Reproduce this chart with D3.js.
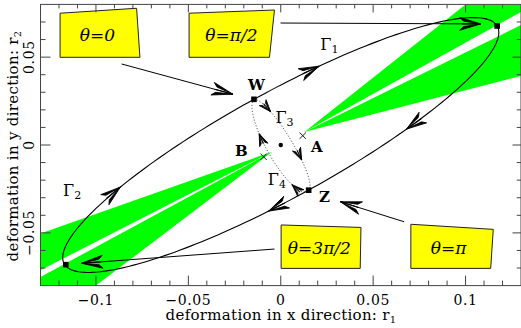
<!DOCTYPE html>
<html><head><meta charset="utf-8">
<script src="https://cdn.jsdelivr.net/npm/d3@7"></script>
<style>body{margin:0;background:#fff}svg{display:block}</style>
</head><body>
<script>
// ---------- data ----------
const xDomain = [-0.13, 0.13];
const yDomain = [-0.08, 0.08];
const xMajorTicks = [-0.1, -0.05, 0, 0.05, 0.1];
const xTickLabels = ["\u22120.1", "\u22120.05", "0", "0.05", "0.1"];
const yMajorTicks = [-0.05, 0, 0.05];
const yTickLabels = ["\u22120.05", "0", "0.05"];
const xMinorTicks = [-0.12,-0.11,-0.09,-0.08,-0.07,-0.06,-0.04,-0.03,-0.02,-0.01,0.01,0.02,0.03,0.04,0.06,0.07,0.08,0.09,0.11,0.12];
const yMinorTicks = [-0.07,-0.06,-0.04,-0.03,-0.02,-0.01,0.01,0.02,0.03,0.04,0.06,0.07];

// key points of the loop: W (theta=0), TR (theta=pi/2), Z (theta=pi), BL (theta=3pi/2)
const keyNames = ["W", "TR", "Z", "BL"];
const keyX = [-0.0145, 0.1171, 0.0151, -0.1163];
const keyY = [0.0260, 0.0677, -0.0257, -0.0681];
// arrow parameters along the big loop (Gamma1 / Gamma2)
const loopArrowTheta = [0.30, 2.65, 3.32, 5.58];

// inner loops: via points (widest points) of Gamma3 and Gamma4
const gamma3Via = [0.0064, 0.0012];
const gamma4Via = [-0.0057, -0.0061];
const gamma3ArrowTheta = [0.80, 1.95];
const gamma4ArrowTheta = [1.10, 2.35];

// crosses A, B and centre dot
const crossNames = ["A", "B"];
const crossX = [0.0119, -0.0093];
const crossY = [0.0053, -0.0067];
const centreDot = [0, 0];

// green wedges (polygons)
const wedgeA1 = [[0.0128,0.0074],[0.100,0.080],[0.130,0.080],[0.130,0.0757]];
const wedgeA2 = [[0.0128,0.0074],[0.130,0.0683],[0.130,0.0393]];
const wedgeB1 = [[-0.0046,-0.0038],[-0.130,-0.0503],[-0.130,-0.0712]];
const wedgeB2 = [[-0.0046,-0.0038],[-0.130,-0.0751],[-0.130,-0.080],[-0.100,-0.080]];

// theta boxes
const boxLabels = ["\u03b8=0", "\u03b8=\u03c0/2", "\u03b8=3\u03c0/2", "\u03b8=\u03c0"];
const boxCorners = [
  [[-0.1194,0.0750],[-0.0780,0.0778],[-0.0762,0.0499],[-0.1194,0.0499]],
  [[-0.0496,0.0750],[-0.0034,0.0768],[-0.0061,0.0499],[-0.0496,0.0499]],
  [[0.0002,-0.0455],[0.0434,-0.0469],[0.0430,-0.0702],[0.0002,-0.0702]],
  [[0.0704,-0.0451],[0.1150,-0.0480],[0.1136,-0.0702],[0.0704,-0.0702]]
];
const boxTextPos = [[-0.0992,0.0626],[-0.0267,0.0626],[0.0209,-0.0586],[0.0908,-0.0586]];
// annotation arrows from boxes: [x0,y0,x1,y1]
const annotArrows = [
  [-0.0861, 0.0461, -0.0259, 0.0289],
  [-0.0001, 0.0694, 0.1082, 0.0689],
  [0.0668, -0.0437, 0.0323, -0.0323],
  [-0.0034, -0.0592, -0.1077, -0.0673]
];
// point labels
const ptLabels = ["W", "A", "B", "Z"];
const ptLabelX = [-0.0132, 0.0195, -0.0213, 0.0236];
const ptLabelY = [0.0341, -0.0010, -0.0034, -0.0294];
// Gamma labels
const gammaSubs = ["1", "2", "3", "4"];
const gammaX = [0.0263, -0.1129, 0.0020, -0.0021];
const gammaY = [0.0575, -0.0256, 0.0161, -0.0195];

// ---------- drawing ----------
const Wd = 521, Ht = 328;
const svg = d3.select("body").append("svg").attr("width", Wd).attr("height", Ht);
const x = d3.scaleLinear().domain(xDomain).range([40.5, 521]);
const y = d3.scaleLinear().domain(yDomain).range([285.6, 4.4]);
const X0 = x(xDomain[0]), X1 = x(xDomain[1]), Y0 = y(yDomain[0]), Y1 = y(yDomain[1]);

svg.append("clipPath").attr("id", "clip").append("rect")
  .attr("x", X0).attr("y", Y1).attr("width", X1 - X0).attr("height", Y0 - Y1);
const plot = svg.append("g").attr("clip-path", "url(#clip)");

const poly = pts => "M" + pts.map(p => x(p[0]) + "," + y(p[1])).join("L") + "Z";
[wedgeA1, wedgeA2, wedgeB1, wedgeB2].forEach(w =>
  plot.append("path").attr("d", poly(w)).attr("fill", "#00ff00"));

// loop curve helpers
const ax = keyX[0], ay = keyY[0], bx = keyX[1], by = keyY[1];
const loopPt = t => [ax * Math.cos(t) + bx * Math.sin(t), ay * Math.cos(t) + by * Math.sin(t)];
const g3Pt = t => [ax * Math.cos(t) + gamma3Via[0] * Math.sin(t), ay * Math.cos(t) + gamma3Via[1] * Math.sin(t)];
const g4Pt = t => [ax * Math.cos(t) + gamma4Via[0] * Math.sin(t), ay * Math.cos(t) + gamma4Via[1] * Math.sin(t)];
const line = d3.line().x(d => x(d[0])).y(d => y(d[1]));
const N = 240;
const loopData = d3.range(N + 1).map(i => loopPt(2 * Math.PI * i / N));
plot.append("path").attr("d", line(loopData)).attr("fill", "none").attr("stroke", "#000").attr("stroke-width", 1.1);
const g3Data = d3.range(N / 2 + 1).map(i => g3Pt(Math.PI * i / (N / 2)));
const g4Data = d3.range(N / 2 + 1).map(i => g4Pt(Math.PI * i / (N / 2)));
[g3Data, g4Data].forEach(d => plot.append("path").attr("d", line(d)).attr("fill", "none")
  .attr("stroke", "#000").attr("stroke-width", 0.8).attr("stroke-dasharray", "1,2"));

function arrowHead(g, px, py, ang, L, w) {
  const deg = ang * 180 / Math.PI;
  const d = `M0,0L${-L},${-w}L${-L * 0.82},${-w * 0.42}Z M0,0L${-L},${w}L${-L * 0.82},${w * 0.42}Z`;
  g.append("path").attr("d", d).attr("transform", `translate(${px},${py}) rotate(${deg})`)
    .attr("fill", "#000").attr("stroke", "#000").attr("stroke-width", 0.8).attr("stroke-linejoin", "round");
  g.append("line").attr("x1", 0).attr("y1", 0).attr("x2", -L * 0.9).attr("y2", 0)
    .attr("transform", `translate(${px},${py}) rotate(${deg})`)
    .attr("stroke", "#000").attr("stroke-width", 1.1);
}
function curveArrow(fn, t, dir, L, w) {
  const p = fn(t), q = fn(t + dir * 0.01);
  const ang = Math.atan2(y(q[1]) - y(p[1]), x(q[0]) - x(p[0]));
  arrowHead(plot, x(p[0]), y(p[1]), ang, L, w);
}
loopArrowTheta.forEach(t => curveArrow(loopPt, t, 1, 20, 6.5));
gamma3ArrowTheta.forEach(t => curveArrow(g3Pt, t, 1, 12, 4.5));
gamma4ArrowTheta.forEach(t => curveArrow(g4Pt, t, -1, 12, 4.5));

// annotation arrows
annotArrows.forEach(a => {
  plot.append("line").attr("x1", x(a[0])).attr("y1", y(a[1])).attr("x2", x(a[2])).attr("y2", y(a[3]))
    .attr("stroke", "#000").attr("stroke-width", 1);
  const ang = Math.atan2(y(a[3]) - y(a[1]), x(a[2]) - x(a[0]));
  arrowHead(plot, x(a[2]), y(a[3]), ang, 21, 6.5);
});

// boxes
boxCorners.forEach((c, i) => {
  plot.append("path").attr("d", poly(c)).attr("fill", "#ffff00").attr("stroke", "#222").attr("stroke-width", 1);
  plot.append("text").attr("x", x(boxTextPos[i][0])).attr("y", y(boxTextPos[i][1]))
    .attr("text-anchor", "middle").attr("dominant-baseline", "central")
    .attr("font-family", "DejaVu Serif").attr("font-style", "italic").attr("font-size", 17)
    .text(boxLabels[i]);
});

// key point squares
keyX.forEach((kx, i) => {
  plot.append("rect").attr("x", x(kx) - 2.8).attr("y", y(keyY[i]) - 2.8).attr("width", 5.6).attr("height", 5.6).attr("fill", "#000");
});
// crosses
crossX.forEach((cx, i) => {
  const px = x(cx), py = y(crossY[i]), s = 3.2;
  plot.append("path").attr("d", `M${px - s},${py - s}L${px + s},${py + s}M${px - s},${py + s}L${px + s},${py - s}`)
    .attr("stroke", "#000").attr("stroke-width", 0.9);
});
plot.append("circle").attr("cx", x(centreDot[0])).attr("cy", y(centreDot[1])).attr("r", 2.2).attr("fill", "#000");

// point labels
ptLabels.forEach((t, i) => {
  plot.append("text").attr("x", x(ptLabelX[i])).attr("y", y(ptLabelY[i]))
    .attr("text-anchor", "middle").attr("dominant-baseline", "central")
    .attr("font-family", "DejaVu Serif").attr("font-weight", "bold").attr("font-size", 15).text(t);
});
// gamma labels
gammaSubs.forEach((s, i) => {
  const t = plot.append("text").attr("x", x(gammaX[i])).attr("y", y(gammaY[i]))
    .attr("text-anchor", "middle").attr("dominant-baseline", "central")
    .attr("font-family", "DejaVu Serif").attr("font-size", 16);
  t.append("tspan").text("\u0393");
  t.append("tspan").attr("font-size", 11).attr("dy", 5).text(s);
});

// frame & ticks
const ax_ = svg.append("g").attr("stroke", "#444").attr("stroke-width", 1);
ax_.append("rect").attr("x", X0).attr("y", Y1).attr("width", X1 - X0).attr("height", Y0 - Y1).attr("fill", "none");
const tickLen = [10, 5];
[[xMajorTicks, 0], [xMinorTicks, 1]].forEach(([ts, k]) => ts.forEach(v => {
  ax_.append("line").attr("x1", x(v)).attr("x2", x(v)).attr("y1", Y0).attr("y2", Y0 - tickLen[k]);
  ax_.append("line").attr("x1", x(v)).attr("x2", x(v)).attr("y1", Y1).attr("y2", Y1 + tickLen[k] * 0.8);
}));
[[yMajorTicks, 0], [yMinorTicks, 1]].forEach(([ts, k]) => ts.forEach(v => {
  ax_.append("line").attr("y1", y(v)).attr("y2", y(v)).attr("x1", X0).attr("x2", X0 + tickLen[k]);
  ax_.append("line").attr("y1", y(v)).attr("y2", y(v)).attr("x1", X1).attr("x2", X1 - tickLen[k] * 0.85);
}));
xMajorTicks.forEach((v, i) => {
  svg.append("text").attr("x", x(v)).attr("y", 299.5).attr("text-anchor", "middle").attr("dominant-baseline", "central")
    .attr("font-family", "DejaVu Serif").attr("font-size", 14).attr("letter-spacing", 0.6).text(xTickLabels[i]);
});
yMajorTicks.forEach((v, i) => {
  svg.append("text").attr("transform", `translate(28.5,${y(v)}) rotate(-90)`).attr("text-anchor", "middle")
    .attr("dominant-baseline", "central").attr("font-family", "DejaVu Serif").attr("font-size", 14)
    .attr("letter-spacing", 0.6).text(yTickLabels[i]);
});
// axis titles
const xt = svg.append("text").attr("x", 281).attr("y", 315).attr("text-anchor", "middle").attr("dominant-baseline", "central")
  .attr("font-family", "DejaVu Serif").attr("font-size", 15).attr("letter-spacing", 0.3);
xt.append("tspan").text("deformation in x direction: r");
xt.append("tspan").attr("font-size", 10).attr("dy", 4).text("1");
const yt = svg.append("text").attr("transform", "translate(13,146) rotate(-90)").attr("text-anchor", "middle")
  .attr("dominant-baseline", "central").attr("font-family", "DejaVu Serif").attr("font-size", 15).attr("letter-spacing", 0.3);
yt.append("tspan").text("deformation in y direction: r");
yt.append("tspan").attr("font-size", 10).attr("dy", 4).text("2");
</script>
</body></html>
